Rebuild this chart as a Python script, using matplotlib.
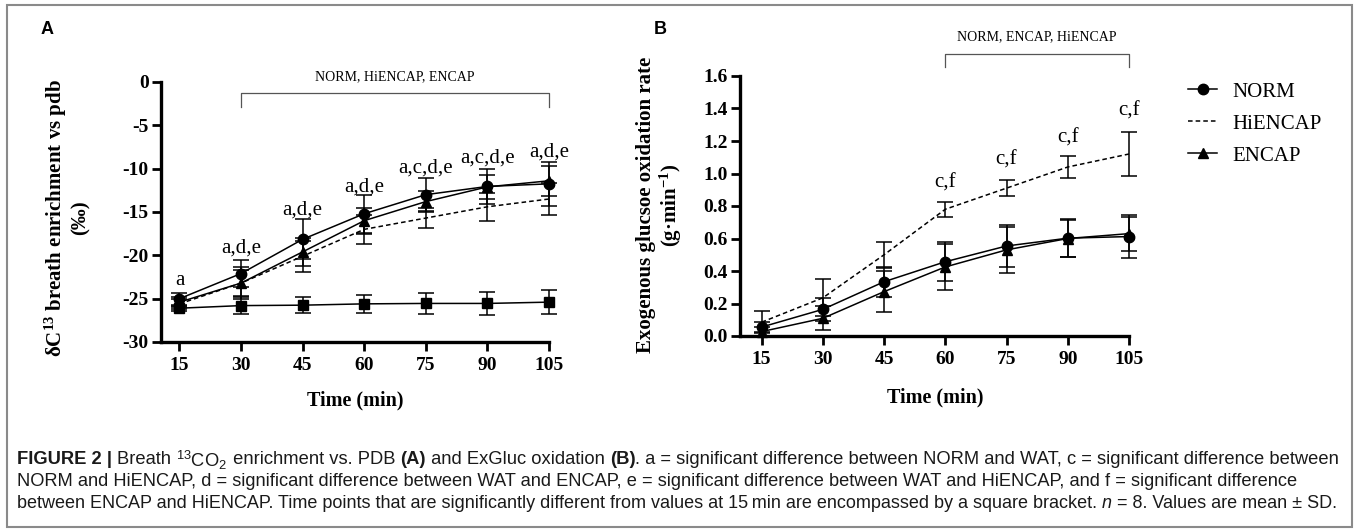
import numpy as np
import matplotlib
matplotlib.use("Agg")
import matplotlib.pyplot as plt
from matplotlib.patches import Rectangle
from matplotlib.lines import Line2D

plt.rcParams['font.family'] = ['Liberation Serif', 'DejaVu Serif']
plt.rcParams['mathtext.default'] = 'regular'
plt.rcParams['axes.unicode_minus'] = False

# time points (min)
time = [15, 30, 45, 60, 75, 90, 105]

# panel A: breath 13C enrichment vs pdb (mean, SD)
norm_a = [-25.0, -22.1, -18.15, -15.2, -13.0, -12.05, -11.75]
norm_a_sd = [0.7, 1.6, 2.3, 2.2, 1.9, 2.0, 2.5]
hiencap_a = [-25.6, -23.2, -20.1, -17.0, -15.7, -14.4, -13.5]
hiencap_a_sd = [0.6, 1.5, 1.8, 1.7, 1.2, 1.6, 1.9]
encap_a = [-25.4, -23.2, -19.6, -16.0, -13.8, -12.1, -11.4]
encap_a_sd = [0.6, 1.8, 1.6, 1.5, 1.2, 1.4, 1.7]
wat_a = [-26.1, -25.8, -25.75, -25.6, -25.55, -25.55, -25.4]
wat_a_sd = [0.3, 0.95, 0.95, 1.0, 1.25, 1.35, 1.35]
sig_a = ["a", "a,d,e", "a,d,e", "a,d,e", "a,c,d,e", "a,c,d,e", "a,d,e"]
sig_a_y = [-22.9, -19.15, -14.8, -12.1, -9.9, -8.8, -8.1]

# panel B: exogenous glucose oxidation rate (g/min)
norm_b = [0.055, 0.164, 0.334, 0.457, 0.554, 0.602, 0.612]
norm_b_sd = [0.03, 0.07, 0.093, 0.12, 0.13, 0.116, 0.13]
hiencap_b = [0.085, 0.235, 0.50, 0.78, 0.91, 1.04, 1.12]
hiencap_b_sd = [0.068, 0.113, 0.08, 0.045, 0.05, 0.065, 0.135]
encap_b = [0.027, 0.109, 0.273, 0.425, 0.53, 0.60, 0.63]
encap_b_sd = [0.03, 0.075, 0.125, 0.14, 0.14, 0.115, 0.105]
sig_b = ["", "", "", "c,f", "c,f", "c,f", "c,f"]
sig_b_y = [0, 0, 0, 0.94, 1.08, 1.22, 1.385]

W, H = 1357, 531
fig = plt.figure(figsize=(W / 100, H / 100), dpi=100)


def fx(px):
    return px / W


def fy(py):
    return 1 - py / H


# outer frame
fig.patches.append(Rectangle((fx(7), fy(527)), fx(1345), 522 / H, transform=fig.transFigure,
                             fill=False, edgecolor='#8a8a8a', lw=1.5))

axA = fig.add_axes([fx(161), fy(342), fx(388), 260 / H])
axB = fig.add_axes([fx(740), fy(336), fx(389), 260 / H])

line_kw = dict(color='black', lw=1.1, capsize=5.5, elinewidth=1.1, capthick=1.1, clip_on=False)

axA.errorbar(time, wat_a, yerr=wat_a_sd, marker='s', ms=7, **line_kw)
axA.errorbar(time, hiencap_a, yerr=hiencap_a_sd, marker='', ls=(0, (3, 2)), **line_kw)
axA.errorbar(time, encap_a, yerr=encap_a_sd, marker='^', ms=7, **line_kw)
axA.errorbar(time, norm_a, yerr=norm_a_sd, marker='o', ms=7.5, **line_kw)

axB.errorbar(time, norm_b, yerr=norm_b_sd, marker='o', ms=7.5, **line_kw)
axB.errorbar(time, hiencap_b, yerr=hiencap_b_sd, marker='', ls=(0, (3, 2)), **line_kw)
axB.errorbar(time, encap_b, yerr=encap_b_sd, marker='^', ms=7, **line_kw)

for t, s, yv in zip(time, sig_a, sig_a_y):
    axA.text(t, yv, s, ha='center', va='center', fontsize=15)
for t, s, yv in zip(time, sig_b, sig_b_y):
    if s:
        axB.text(t, yv, s, ha='center', va='center', fontsize=15)

axA.set_xlim(10.5, 105)
axA.set_ylim(-30, 0)
axA.set_yticks(np.arange(-30, 1, 5))
axB.set_xlim(9.7, 105)
axB.set_ylim(0, 1.6)
axB.set_yticks(np.arange(0, 1.61, 0.2))
axB.yaxis.set_major_formatter(matplotlib.ticker.FormatStrFormatter('%.1f'))

for ax in (axA, axB):
    ax.set_xticks(time)
    ax.spines['top'].set_visible(False)
    ax.spines['right'].set_visible(False)
    ax.spines['left'].set_linewidth(2.4)
    ax.spines['bottom'].set_linewidth(2.4)
    ax.tick_params(axis='both', direction='out', length=6.5, width=2, labelsize=14)
    ax.tick_params(axis='y', pad=2.5)
    ax.tick_params(axis='x', pad=4)
    for lab in ax.get_xticklabels() + ax.get_yticklabels():
        lab.set_fontweight('bold')

# axis labels
fig.text(fx(67), fy(218), 'δC$^{13}$ breath enrichment vs pdb\n(‰)', rotation=90, ha='center',
         va='center', fontsize=15, fontweight='bold', linespacing=1.1)
fig.text(fx(660), fy(205), 'Exogenous glucsoe oxidation rate\n(g·min$^{-1}$)', rotation=90,
         ha='center', va='center', fontsize=15, fontweight='bold', linespacing=1.1)
fig.text(fx(355), fy(400), 'Time (min)', ha='center', va='center', fontsize=14.5, fontweight='bold')
fig.text(fx(935), fy(397), 'Time (min)', ha='center', va='center', fontsize=14.5, fontweight='bold')

# panel letters
fig.text(fx(47), fy(29), 'A', ha='center', va='center', fontsize=13, fontweight='bold',
         family='Liberation Sans')
fig.text(fx(660), fy(29), 'B', ha='center', va='center', fontsize=13, fontweight='bold',
         family='Liberation Sans')

# significance brackets
for ax, x0, x1, ytop, ybot, label, ytxt in [
        (axA, 30, 105, 93, 107, 'NORM, HiENCAP, ENCAP', 77),
        (axB, 60, 105, 54, 67, 'NORM, ENCAP, HiENCAP', 37)]:
    tr = matplotlib.transforms.blended_transform_factory(ax.transData, fig.transFigure)
    ax.plot([x0, x0, x1, x1], [fy(ybot), fy(ytop), fy(ytop), fy(ybot)], transform=tr,
            color='#555555', lw=0.9, clip_on=False)
    ax.text((x0 + x1) / 2, fy(ytxt), label, transform=tr, ha='center', va='center', fontsize=10)

# legend (no error bars in the keys)
handles = [Line2D([], [], color='black', lw=1.1, marker='o', ms=7.5),
           Line2D([], [], color='black', lw=1.1, ls=(0, (3, 2))),
           Line2D([], [], color='black', lw=1.1, marker='^', ms=7)]
fig.legend(handles, ['NORM', 'HiENCAP', 'ENCAP'], loc='upper left',
           bbox_to_anchor=(fx(1188), fy(82)), frameon=False, fontsize=15, handlelength=1.4,
           labelspacing=0.6, handletextpad=0.75, borderpad=0, borderaxespad=0)

# caption
cap_font = ['Liberation Sans', 'DejaVu Sans']
cap_lines = [
    [("FIGURE 2 | ", 'bold', 'normal'), ("Breath ", 'normal', 'normal'),
     ("$^{13}$CO$_2$", 'normal', 'normal'), (" enrichment vs. PDB ", 'normal', 'normal'),
     ("(A)", 'bold', 'normal'), (" and ExGluc oxidation ", 'normal', 'normal'),
     ("(B)", 'bold', 'normal'),
     (". a = significant difference between NORM and WAT, c = significant difference between",
      'normal', 'normal')],
    [("NORM and HiENCAP, d = significant difference between WAT and ENCAP, e = significant difference "
      "between WAT and HiENCAP, and f = significant difference", 'normal', 'normal')],
    [("between ENCAP and HiENCAP. Time points that are significantly different from values at 15\u2009min "
      "are encompassed by a square bracket. ", 'normal', 'normal'), ("n", 'normal', 'italic'),
     (" = 8. Values are mean \u00b1 SD.", 'normal', 'normal')],
]
cap_y = [460, 482, 504]
cap_end = [1338, 1299, 1338]
renderer = fig.canvas.get_renderer()


def draw_line(py, runs, size, x0=17):
    x = x0
    made = []
    for txt, wt, st in runs:
        t = fig.text(fx(x), fy(py), txt, ha='left', va='center', fontsize=size, fontweight=wt,
                     fontstyle=st, family=cap_font, color='#1a1a1a')
        x += t.get_window_extent(renderer=renderer).width
        made.append(t)
    return x, made


# fit each caption line to the width it has in the reference
for py, runs, xe in zip(cap_y, cap_lines, cap_end):
    end, tmp = draw_line(py, runs, 13)
    for t in tmp:
        t.remove()
    draw_line(py, runs, 13 * (xe - 17) / (end - 17))

fig.savefig('out.png', dpi=100)
